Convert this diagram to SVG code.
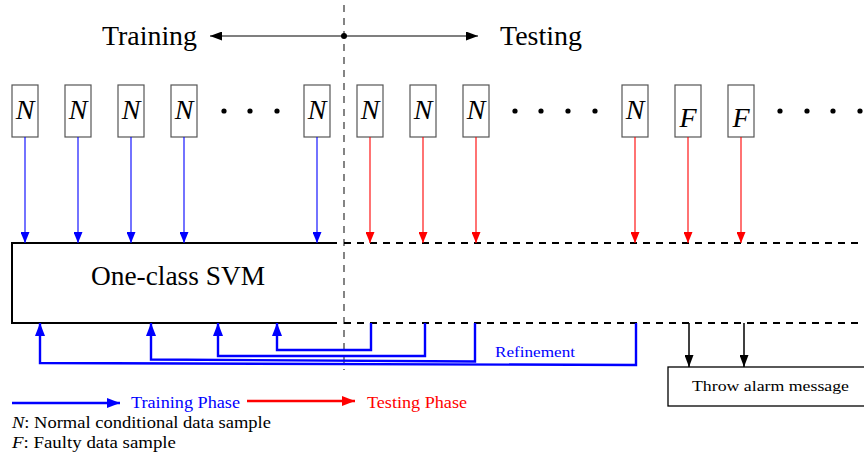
<svg xmlns="http://www.w3.org/2000/svg" width="864" height="458" viewBox="0 0 864 458">
  <style>
    .serif { font-family: "Liberation Serif", "DejaVu Serif", serif; }
    .title { font-size: 27px; fill: #000; }
    .var { font-size: 28px; font-style: italic; fill: #000; }
    .small { font-size: 16px; fill: #000; }
    .sample { fill: #fff; stroke: #555; stroke-width: 1.2; }
    .thinB { stroke: #0000ff; stroke-width: 1.1; fill: none; }
    .thinR { stroke: #ff0000; stroke-width: 1.1; fill: none; }
    .fb { stroke: #0000ff; stroke-width: 2.4; fill: none; }
    .dash { stroke: #000; stroke-width: 2; stroke-dasharray: 7 6; fill: none; }
  </style>
  <defs>
    <marker id="headB" viewBox="0 0 11 9" refX="11" refY="4.5" markerWidth="11" markerHeight="9" markerUnits="userSpaceOnUse" orient="auto">
      <path d="M0,0 L11,4.5 L0,9 z" fill="#0000ff"/>
    </marker>
    <marker id="headR" viewBox="0 0 11 9" refX="11" refY="4.5" markerWidth="11" markerHeight="9" markerUnits="userSpaceOnUse" orient="auto">
      <path d="M0,0 L11,4.5 L0,9 z" fill="#ff0000"/>
    </marker>
    <marker id="headBig" viewBox="0 0 13 10" refX="13" refY="5" markerWidth="13" markerHeight="10" markerUnits="userSpaceOnUse" orient="auto">
      <path d="M0,0 L13,5 L0,10 z" fill="#0000ff"/>
    </marker>
    <marker id="headBigR" viewBox="0 0 13 10" refX="13" refY="5" markerWidth="13" markerHeight="10" markerUnits="userSpaceOnUse" orient="auto">
      <path d="M0,0 L13,5 L0,10 z" fill="#ff0000"/>
    </marker>
    <marker id="headK" viewBox="0 0 12 9" refX="12" refY="4.5" markerWidth="12" markerHeight="9" markerUnits="userSpaceOnUse" orient="auto">
      <path d="M0,0 L12,4.5 L0,9 z" fill="#000"/>
    </marker>
  </defs>

  <!-- phase divider and headline -->
  <g id="divider">
    <line x1="344" y1="5" x2="344" y2="370" stroke="#333" stroke-width="1.2" stroke-dasharray="7 6"/>
    <line x1="344" y1="36" x2="210" y2="36" stroke="#000" stroke-width="1.2" marker-end="url(#headK)"/>
    <line x1="344" y1="36" x2="478" y2="36" stroke="#000" stroke-width="1.2" marker-end="url(#headK)"/>
    <circle cx="344" cy="36" r="3" fill="#000"/>
  </g>
  <g id="label-training"><text class="serif title" x="102" y="45" textLength="95" lengthAdjust="spacingAndGlyphs">Training</text></g>
  <g id="label-testing"><text class="serif title" x="500" y="45" textLength="82" lengthAdjust="spacingAndGlyphs">Testing</text></g>

  <!-- data samples -->
  <g id="s1"><rect class="sample" x="12" y="85" width="26" height="52"/><text class="serif var" x="25" y="119" text-anchor="middle">N</text></g>
  <g id="s2"><rect class="sample" x="65" y="85" width="26" height="52"/><text class="serif var" x="78" y="119" text-anchor="middle">N</text></g>
  <g id="s3"><rect class="sample" x="118" y="85" width="26" height="52"/><text class="serif var" x="131" y="119" text-anchor="middle">N</text></g>
  <g id="s4"><rect class="sample" x="171" y="85" width="26" height="52"/><text class="serif var" x="184" y="119" text-anchor="middle">N</text></g>
  <g id="s5"><rect class="sample" x="304" y="85" width="26" height="52"/><text class="serif var" x="317" y="119" text-anchor="middle">N</text></g>
  <g id="s6"><rect class="sample" x="357" y="85" width="26" height="52"/><text class="serif var" x="370" y="119" text-anchor="middle">N</text></g>
  <g id="s7"><rect class="sample" x="410" y="85" width="26" height="52"/><text class="serif var" x="423" y="119" text-anchor="middle">N</text></g>
  <g id="s8"><rect class="sample" x="463" y="85" width="26" height="52"/><text class="serif var" x="476" y="119" text-anchor="middle">N</text></g>
  <g id="s9"><rect class="sample" x="622" y="85" width="26" height="52"/><text class="serif var" x="635" y="119" text-anchor="middle">N</text></g>
  <g id="s10"><rect class="sample" x="675" y="85" width="26" height="52"/><text class="serif var" x="688" y="127" text-anchor="middle">F</text></g>
  <g id="s11"><rect class="sample" x="728" y="85" width="26" height="52"/><text class="serif var" x="741" y="127" text-anchor="middle">F</text></g>

  <!-- ellipsis dots -->
  <g id="ellipsis" fill="#000">
    <circle cx="224" cy="111" r="2.6"/><circle cx="250" cy="111" r="2.6"/><circle cx="277" cy="111" r="2.6"/>
    <circle cx="515" cy="111" r="2.6"/><circle cx="541" cy="111" r="2.6"/><circle cx="568" cy="111" r="2.6"/><circle cx="595" cy="111" r="2.6"/>
    <circle cx="780" cy="111" r="2.6"/><circle cx="807" cy="111" r="2.6"/><circle cx="833" cy="111" r="2.6"/><circle cx="860" cy="111" r="2.6"/>
  </g>

  <!-- classifier block -->
  <g id="svm">
    <path d="M337,243 H12 V323 H337" fill="none" stroke="#000" stroke-width="2"/>
    <line class="dash" x1="344" y1="243" x2="864" y2="243"/>
    <line class="dash" x1="344" y1="323" x2="864" y2="323"/>
    <text class="serif title" x="91" y="285" textLength="174" lengthAdjust="spacingAndGlyphs">One-class SVM</text>
  </g>

  <!-- alarm block -->
  <g id="alarm">
    <rect x="668" y="367" width="200" height="39" fill="#fff" stroke="#000" stroke-width="1.3"/>
    <text class="serif" x="692" y="391" font-size="15" textLength="157" lengthAdjust="spacingAndGlyphs">Throw alarm message</text>
  </g>

  <!-- connectors -->
  <g id="connectors">
    <line class="thinB" x1="25" y1="137" x2="25" y2="243" marker-end="url(#headB)"/>
    <line class="thinB" x1="78" y1="137" x2="78" y2="243" marker-end="url(#headB)"/>
    <line class="thinB" x1="131" y1="137" x2="131" y2="243" marker-end="url(#headB)"/>
    <line class="thinB" x1="184" y1="137" x2="184" y2="243" marker-end="url(#headB)"/>
    <line class="thinB" x1="317" y1="137" x2="317" y2="243" marker-end="url(#headB)"/>
    <line class="thinR" x1="370" y1="137" x2="370" y2="243" marker-end="url(#headR)"/>
    <line class="thinR" x1="423" y1="137" x2="423" y2="243" marker-end="url(#headR)"/>
    <line class="thinR" x1="476" y1="137" x2="476" y2="243" marker-end="url(#headR)"/>
    <line class="thinR" x1="635" y1="137" x2="635" y2="243" marker-end="url(#headR)"/>
    <line class="thinR" x1="688" y1="137" x2="688" y2="243" marker-end="url(#headR)"/>
    <line class="thinR" x1="741" y1="137" x2="741" y2="243" marker-end="url(#headR)"/>

    <!-- refinement feedback -->
    <path class="fb" d="M371,323 V350 H277 V323" marker-end="url(#headBig)"/>
    <path class="fb" d="M425,323 V356 H218 V323" marker-end="url(#headBig)"/>
    <path class="fb" d="M475,323 V361.5 L151,359.5 V323" marker-end="url(#headBig)"/>
    <path class="fb" d="M636,323 V365 L40,363 V323" marker-end="url(#headBig)"/>
    <text class="serif" x="495" y="357" font-size="15" fill="#0000ff" textLength="80" lengthAdjust="spacingAndGlyphs">Refinement</text>

    <!-- alarms -->
    <line x1="689" y1="323" x2="689" y2="367" stroke="#000" stroke-width="1.5" marker-end="url(#headK)"/>
    <line x1="744" y1="323" x2="744" y2="367" stroke="#000" stroke-width="1.5" marker-end="url(#headK)"/>
  </g>

  <!-- legend -->
  <g id="legend">
    <line x1="12" y1="403" x2="120" y2="403" stroke="#0000ff" stroke-width="2.4" marker-end="url(#headBig)"/>
    <text class="serif" x="131" y="408" font-size="16" fill="#0000ff" textLength="109" lengthAdjust="spacingAndGlyphs">Training Phase</text>
    <line x1="247" y1="401" x2="355" y2="401" stroke="#ff0000" stroke-width="2.4" marker-end="url(#headBigR)"/>
    <text class="serif" x="367" y="408" font-size="16" fill="#ff0000" textLength="100" lengthAdjust="spacingAndGlyphs">Testing Phase</text>
    <text class="serif small" x="12" y="428" textLength="259" lengthAdjust="spacingAndGlyphs"><tspan font-style="italic">N</tspan>: Normal conditional data sample</text>
    <text class="serif small" x="12" y="448" textLength="164" lengthAdjust="spacingAndGlyphs"><tspan font-style="italic">F</tspan>: Faulty data sample</text>
  </g>
</svg>
